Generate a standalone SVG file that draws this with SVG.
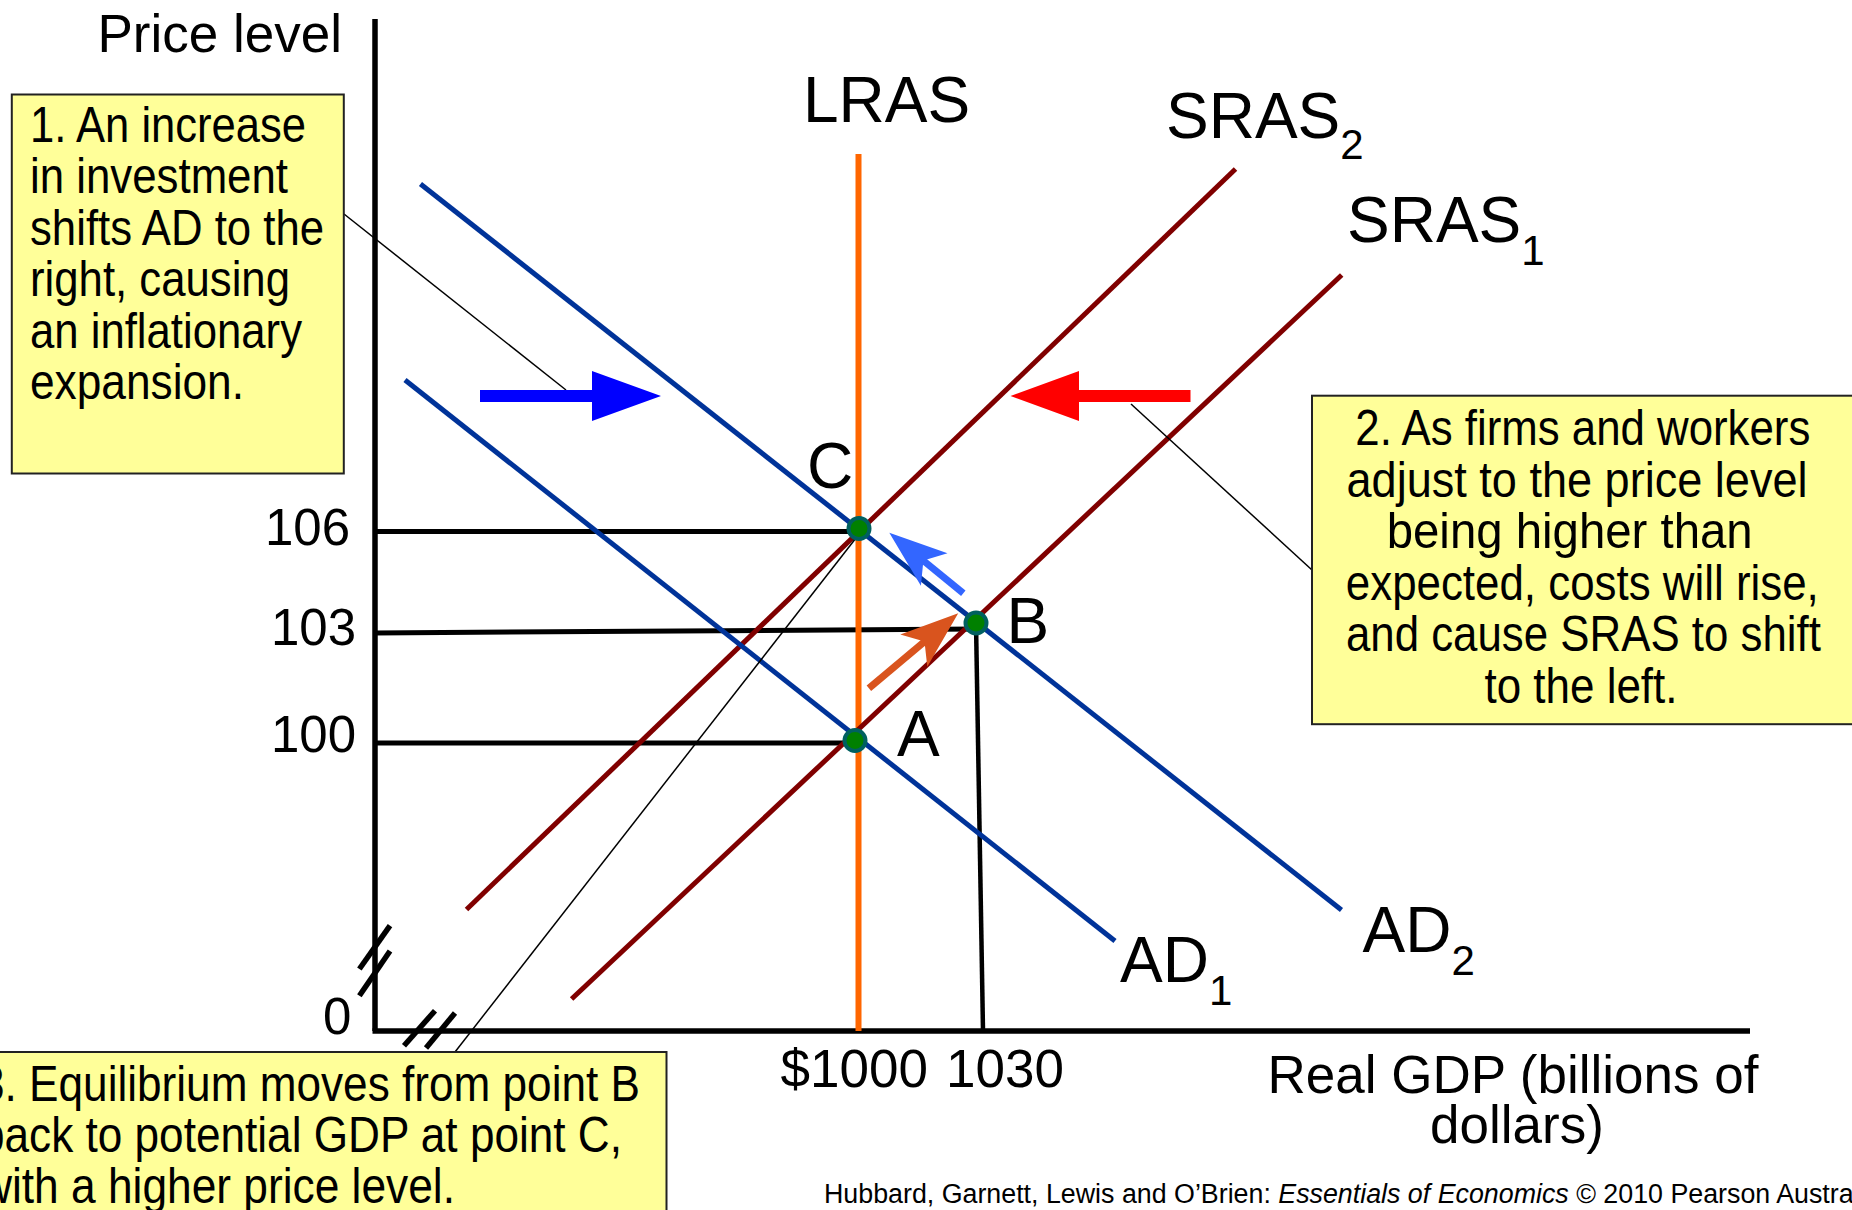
<svg xmlns="http://www.w3.org/2000/svg" width="1852" height="1210" viewBox="0 0 1852 1210">
<style>
text{font-family:"Liberation Sans",Arial,sans-serif;fill:#000}
.lbl{font-size:64px}
.sub{font-size:42px}
.tick{font-size:51px}
.ax{font-size:53px}
.box{fill:#FFFF99;stroke:#222;stroke-width:2}
.bt{font-family:"Liberation Sans Narrow","Arial Narrow","Liberation Sans",Arial,sans-serif;font-size:50px}
.ad{stroke:#003399;stroke-width:5;fill:none}
.sras{stroke:#800000;stroke-width:5;fill:none}
.guide{stroke:#000;stroke-width:5;fill:none}
.axis{stroke:#000;stroke-width:5.5;fill:none}
.lead{stroke:#000;stroke-width:1.5;fill:none}
.dot{fill:#008000;stroke:#006060;stroke-width:4}
</style>
<rect x="0" y="0" width="1852" height="1210" fill="#fff"/>

<g id="axes">
  <line class="axis" x1="375" y1="19" x2="375" y2="1031"/>
  <line class="axis" x1="372.5" y1="1031" x2="1750" y2="1031"/>
  <line class="axis" x1="390" y1="925.7" x2="359.4" y2="969"/>
  <line class="axis" x1="390" y1="951" x2="359.4" y2="995.7"/>
  <line class="axis" x1="435" y1="1010.7" x2="404" y2="1045.7"/>
  <line class="axis" x1="455" y1="1013" x2="426" y2="1048"/>
  <text class="ax" x="97.5" y="52">Price level</text>
  <text class="tick" x="323" y="1034">0</text>
  <text class="ax" x="780.5" y="1087">$1000</text>
  <text class="ax" x="946" y="1087">1030</text>
  <text class="ax" x="1267.5" y="1093">Real GDP (billions of</text>
  <text class="ax" x="1517" y="1143" text-anchor="middle">dollars)</text>
</g>

<g id="guides">
  <line class="guide" x1="375" y1="531.5" x2="858" y2="531.5"/>
  <line class="guide" x1="375" y1="633" x2="976" y2="629"/>
  <line class="guide" x1="375" y1="743" x2="855" y2="743"/>
  <line class="guide" x1="976" y1="623" x2="983" y2="1031" style="stroke-width:4.5"/>
  <text class="tick" x="350" y="545" text-anchor="end">106</text>
  <text class="tick" x="356" y="645" text-anchor="end">103</text>
  <text class="tick" x="356" y="752" text-anchor="end">100</text>
</g>

<g id="LRAS">
  <line x1="858.5" y1="154" x2="858.5" y2="1031" stroke="#FF6600" stroke-width="6"/>
  <text class="lbl" x="803" y="121.5">LRAS</text>
</g>

<g id="SRAS2">
  <line class="sras" x1="466.5" y1="909.5" x2="1235.5" y2="169"/>
  <text class="lbl" x="1166" y="138">SRAS<tspan class="sub" dy="21">2</tspan></text>
</g>

<g id="SRAS1">
  <line class="sras" x1="571.6" y1="999" x2="1341.7" y2="275"/>
  <text class="lbl" x="1347" y="242">SRAS<tspan class="sub" dy="23">1</tspan></text>
</g>

<g id="AD1">
  <line class="ad" x1="405" y1="380" x2="1115" y2="941"/>
  <text class="lbl" x="1120" y="982">AD<tspan class="sub" dy="23">1</tspan></text>
</g>

<g id="AD2">
  <line class="ad" x1="420.5" y1="184" x2="1341.5" y2="910"/>
  <text class="lbl" x="1362.5" y="952">AD<tspan class="sub" dy="23">2</tspan></text>
</g>

<g id="connectors">
  <line class="lead" x1="344" y1="214" x2="566" y2="390"/>
  <line class="lead" x1="1131" y1="404" x2="1312" y2="570"/>
  <line class="lead" x1="856" y1="538" x2="455" y2="1052"/>
  <polygon fill="#0000FF" points="480,390 592,390 592,371 661,396 592,421 592,402 480,402"/>
  <polygon fill="#FF0000" points="1190.5,390 1079,390 1079,371 1010.5,396 1079,421 1079,402 1190.5,402"/>
  <line x1="920.3" y1="558.1" x2="963.3" y2="593.3" stroke="#3366FF" stroke-width="7"/>
  <polygon fill="#3366FF" points="889.3,532.7 947.5,553.2 923.4,560.6 920.9,585.8"/>
  <line x1="927.6" y1="639" x2="868.9" y2="688.3" stroke="#D9541E" stroke-width="7"/>
  <polygon fill="#D9541E" points="958.2,613.3 927.3,666.7 924.5,641.6 900.3,634.5"/>
</g>

<g id="pointC">
  <circle class="dot" cx="859" cy="528.5" r="10.5"/>
  <text class="lbl" x="807" y="488">C</text>
</g>
<g id="pointB">
  <circle class="dot" cx="976" cy="623" r="10.5"/>
  <text class="lbl" x="1006.5" y="643">B</text>
</g>
<g id="pointA">
  <circle class="dot" cx="855" cy="740.5" r="10.5"/>
  <text class="lbl" x="897" y="756">A</text>
</g>

<g id="note1">
  <rect class="box" x="11.8" y="94.5" width="332" height="379"/>
  <text class="bt" x="30" y="141.7" textLength="276" lengthAdjust="spacingAndGlyphs">1. An increase</text>
  <text class="bt" x="30" y="193" textLength="258" lengthAdjust="spacingAndGlyphs">in investment</text>
  <text class="bt" x="30" y="244.5" textLength="294" lengthAdjust="spacingAndGlyphs">shifts AD to the</text>
  <text class="bt" x="30" y="296" textLength="260" lengthAdjust="spacingAndGlyphs">right, causing</text>
  <text class="bt" x="30" y="347.5" textLength="272" lengthAdjust="spacingAndGlyphs">an inflationary</text>
  <text class="bt" x="30" y="399" textLength="214" lengthAdjust="spacingAndGlyphs">expansion.</text>
</g>

<g id="note2">
  <rect class="box" x="1312" y="395.7" width="560" height="328.5"/>
  <text class="bt" x="1582.8" y="445" text-anchor="middle" textLength="455" lengthAdjust="spacingAndGlyphs">2. As firms and workers</text>
  <text class="bt" x="1577" y="496.5" text-anchor="middle" textLength="461" lengthAdjust="spacingAndGlyphs">adjust to the price level</text>
  <text class="bt" x="1569.7" y="548" text-anchor="middle" textLength="366" lengthAdjust="spacingAndGlyphs">being higher than</text>
  <text class="bt" x="1582.3" y="599.5" text-anchor="middle" textLength="473" lengthAdjust="spacingAndGlyphs">expected, costs will rise,</text>
  <text class="bt" x="1583.4" y="651" text-anchor="middle" textLength="475" lengthAdjust="spacingAndGlyphs">and cause SRAS to shift</text>
  <text class="bt" x="1581" y="702.5" text-anchor="middle" textLength="193" lengthAdjust="spacingAndGlyphs">to the left.</text>
</g>

<g id="note3">
  <rect class="box" x="-30" y="1052" width="696.5" height="180"/>
  <text class="bt" x="-20" y="1100.7" textLength="660" lengthAdjust="spacingAndGlyphs">3. Equilibrium moves from point B</text>
  <text class="bt" x="-20" y="1151.7" textLength="642" lengthAdjust="spacingAndGlyphs">back to potential GDP at point C,</text>
  <text class="bt" x="-20" y="1203.3" textLength="475" lengthAdjust="spacingAndGlyphs">with a higher price level.</text>
</g>

<g id="credit">
  <text x="824" y="1203" style="font-size:26.8px">Hubbard, Garnett, Lewis and O’Brien: <tspan font-style="italic">Essentials of Economics</tspan> © 2010 Pearson Australia</text>
</g>
</svg>
